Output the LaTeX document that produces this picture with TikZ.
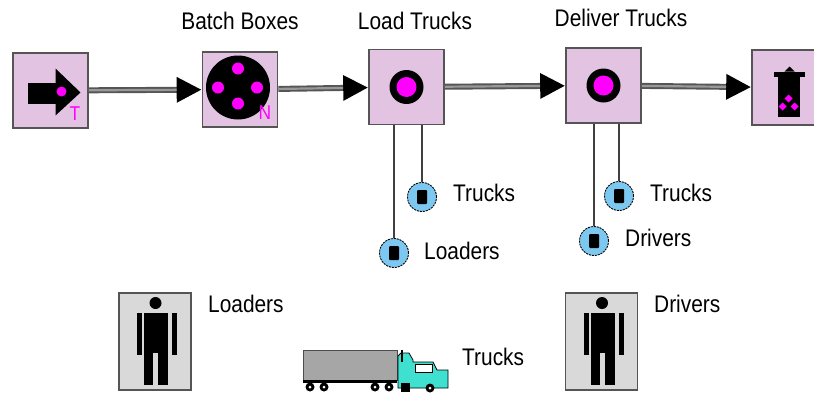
\documentclass[tikz,border=0pt]{standalone}
\usepackage{fontspec}
\setmainfont[FakeStretch=0.87]{Liberation Sans}
\usetikzlibrary{arrows.meta}

\definecolor{blockpink}{RGB}{226,196,226}
\definecolor{resblue}{RGB}{125,200,240}
\definecolor{cabcyan}{RGB}{64,224,208}
\definecolor{edgegray}{RGB}{85,85,85}
\definecolor{tokenpink}{RGB}{255,0,255}

\tikzset{
  block/.style={draw=edgegray, line width=1.6pt, fill=blockpink, minimum size=75pt, inner sep=0pt},
  personbox/.style={draw=edgegray, line width=1.6pt, fill=black!15, minimum width=72pt, minimum height=97pt, inner sep=0pt},
  resource/.style={circle, draw=black, line width=0.9pt, dash pattern=on 2pt off 1pt, fill=resblue,
    minimum size=29pt, inner sep=0pt,
    path picture={\fill[black, rounded corners=1pt] ([shift={(-5pt,-7pt)}]path picture bounding box.center) rectangle ++(10pt,14pt);}},
  link/.style={draw=edgegray, line width=6pt, -{Triangle[length=25pt,width=24pt,color=black]},
    postaction={draw=black!40, line width=2.2pt, -, shorten >=25pt}},
  reslink/.style={draw=black!75, line width=1.2pt},
  lbl/.style={anchor=base west, inner sep=0pt},
  toplbl/.style={anchor=base, inner sep=0pt},
  tag/.style={text=tokenpink, font=\fontsize{20}{22}\selectfont, inner sep=0pt}
}

% standing figure, centred on #1
\newcommand{\stickman}[1]{%
  \begin{scope}[shift={(#1)}]
    \fill (0.5,-38.5) circle (6);
    \fill (-11,-28.5) rectangle (13,11.5);
    \fill (-18,-28.5) rectangle (-13,13.5);
    \fill (17,-28.5) rectangle (22,13.5);
    \fill (-11,11) rectangle (-2,43.5);
    \fill (3,11) rectangle (13,43.5);
  \end{scope}}

\begin{document}
\begin{tikzpicture}[x=1pt, y=-1pt, font=\fontsize{24}{28}\selectfont]

    \clip (0,0) rectangle (814,394);

    % process chain
    \node[block] at (50.5, 90.5) (src) {};
    \node[block] at (240, 89.5) (batch) {};
    \node[block] at (406.5, 87) (load) {};
    \node[block] at (603.5, 85.5) (deliver) {};
    \node[block] at (789.5, 87.5) (sink) {};

    \node[toplbl] at (240, 29) (batchlbl) {Batch Boxes};
    \node[toplbl] at (415, 29) (loadlbl) {Load Trucks};
    \node[toplbl] at (621, 26) (deliverlbl) {Deliver Trucks};

    \draw[link] (src) -- (batch);
    \draw[link] (batch) -- (load);
    \draw[link] (load) -- (deliver);
    \draw[link] (deliver) -- (sink);

    % source icon
    \begin{scope}[shift={(src.center)}]
      \fill (-23,-8) rectangle (5,13);
      \fill (5,-22) -- (30,2) -- (5,25) -- cycle;
      \fill[tokenpink] (11,1) circle (5);
    \end{scope}
    \node[tag] at (75, 114) (srctag) {T};

    % batch icon
    \begin{scope}[shift={(batch.center)}]
      \fill (-2,-2) circle (32);
      \fill[tokenpink] (-2,-21) circle (6);
      \fill[tokenpink] (-22,-2) circle (6);
      \fill[tokenpink] (17,-2) circle (6);
      \fill[tokenpink] (-2,14) circle (6);
    \end{scope}
    \node[tag] at (265, 113) (batchtag) {N};

    % activity icons
    \foreach \b in {load, deliver} {
      \fill (\b.center) circle (17);
      \fill[tokenpink] (\b.center) circle (10);
    }

    % sink icon
    \begin{scope}[shift={(sink.center)}]
      \fill (-16,-16) rectangle (15,-11);
      \fill (-5,-16) -- (0,-21) -- (5,-16) -- cycle;
      \fill (-12,-11) rectangle (10,29);
      \fill[tokenpink] (-1,7) -- (3,11) -- (-1,15) -- (-5,11) -- cycle;
      \fill[tokenpink] (-7,15) -- (-3,19) -- (-7,23) -- (-11,19) -- cycle;
      \fill[tokenpink] (5,15) -- (9,19) -- (5,23) -- (1,19) -- cycle;
    \end{scope}

    % resources seized by the activities
    \node[resource] at (422, 197) (trkL) {};
    \node[resource] at (394, 253) (ldrL) {};
    \node[resource] at (619, 196) (trkD) {};
    \node[resource] at (594, 241) (drvD) {};

    \draw[reslink] (trkL) -- (trkL |- load.south);
    \draw[reslink] (ldrL) -- (ldrL |- load.south);
    \draw[reslink] (trkD) -- (trkD |- deliver.south);
    \draw[reslink] (drvD) -- (drvD |- deliver.south);

    \node[lbl] at (453, 201) (trkLlbl) {Trucks};
    \node[lbl] at (424, 259) (ldrLlbl) {Loaders};
    \node[lbl] at (650, 201) (trkDlbl) {Trucks};
    \node[lbl] at (625, 246) (drvDlbl) {Drivers};

    % resource pools
    \node[personbox] at (155, 341.5) (loaders) {};
    \node[personbox] at (601.5, 341.5) (drivers) {};
    \stickman{loaders.center}
    \stickman{drivers.center}

    \node[lbl] at (208, 312) (loaderslbl) {Loaders};
    \node[lbl] at (654, 312) (driverslbl) {Drivers};

    % truck
    \begin{scope}[shift={(303,350)}]
      \filldraw[fill=black!35, draw=black!70, line width=0.8pt] (0,0) rectangle (94,30);
      \fill (0,30) rectangle (94,33);
      \foreach \w in {7,21,72,86} {
        \fill (\w,37) circle (4.5);
        \fill[white] (\w,37) circle (1.5);
      }
      \filldraw[fill=cabcyan, draw=black, line width=0.8pt]
        (95,38) -- (95,6) -- (98,3) -- (106,3) -- (110,10) -- (110,12) -- (130,12)
        -- (134,20) -- (145,20) -- (145,38) -- cycle;
      \filldraw[fill=white, draw=black, line width=0.6pt] (112,14) rectangle (129,22);
      \draw[line width=1.5pt] (99,0) -- (99,12);
      \fill (98,33) rectangle (107,42);
      \fill (127,38) circle (4.5);
      \fill[white] (127,38) circle (1.5);
    \end{scope}
    \node[lbl] at (462, 365) (truckslbl) {Trucks};

\end{tikzpicture}
\end{document}
